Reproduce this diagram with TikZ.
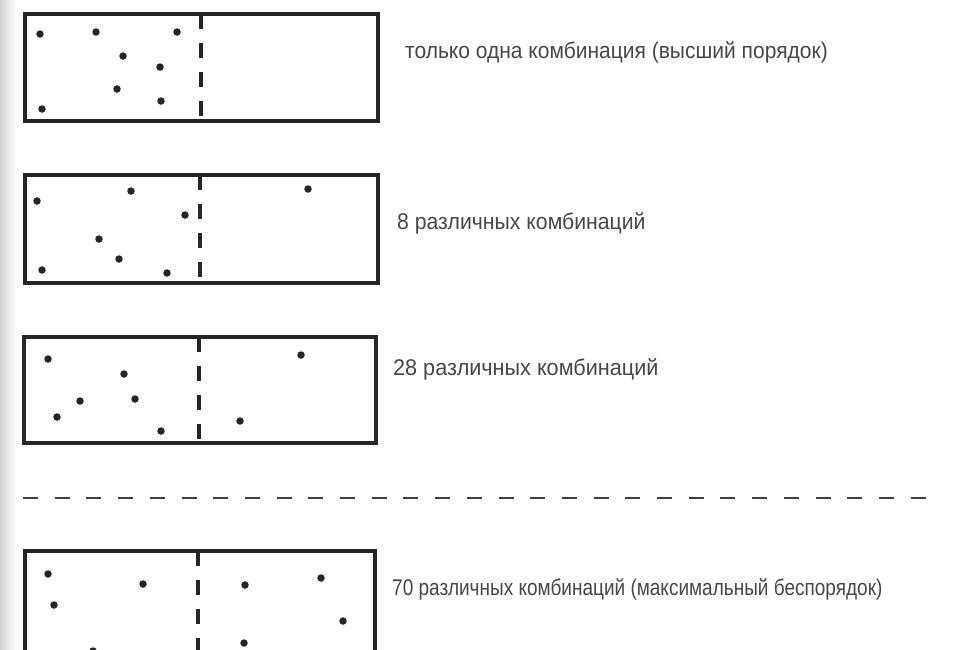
\documentclass[tikz,border=0pt]{standalone}
\usepackage{fontspec}
\usepackage{graphicx}
\setmainfont{Liberation Sans}
\begin{document}
\begin{tikzpicture}[x=1pt,y=-1pt,
  boxframe/.style={draw=black!85,line width=3.4pt},
  divider/.style={draw=black!85,line width=3.2pt,dash pattern=on 15pt off 14pt},
  sep/.style={draw=black!75,line width=2.4pt,dash pattern=on 15pt off 16.7pt},
  dot/.style={circle,fill=black!85,inner sep=0pt,minimum size=7.5pt},
  lbl/.style={anchor=west,inner sep=0pt,text=black!72,font=\fontsize{21}{24}\selectfont}]
\useasboundingbox (0,0) rectangle (961,649);
\clip (0,0) rectangle (961,649);
\fill[white] (0,0) rectangle (961,649);
\shade[left color=black!18,right color=white] (0,0) rectangle (16,649);
% box 1
\draw[boxframe] (25,14) rectangle (378,121);
\draw[divider] (201,14) -- (201,121);
\foreach \p in {(40,34),(96,32),(177,32),(123,56),(160,67),(117,89),(161,101),(42,109)}
  \node[dot] at \p {};
\node[lbl] (t1) at (405,52) {\scalebox{1}[1.08]{только одна комбинация (высший порядок)}};
% box 2
\draw[boxframe] (25,175) rectangle (378,283);
\draw[divider] (200,175) -- (200,283);
\foreach \p in {(37,201),(131,191),(185,215),(308,189),(99,239),(119,259),(42,270),(167,273)}
  \node[dot] at \p {};
\node[lbl] (t2) at (397,223) {\scalebox{1.01}[1.08]{8 различных комбинаций}};
% box 3
\draw[boxframe] (24,337) rectangle (376,443);
\draw[divider] (199,337) -- (199,443);
\foreach \p in {(48,359),(124,374),(301,355),(80,401),(135,399),(57,417),(240,421),(161,431)}
  \node[dot] at \p {};
\node[lbl] (t3) at (393,369) {\scalebox{1.03}[1.08]{28 различных комбинаций}};
% separator
\draw[sep] (23,498) -- (932,498);
% box 4
\draw[boxframe] (25,551) rectangle (375,680);
\draw[divider] (198,551) -- (198,680);
\foreach \p in {(48,574),(143,584),(245,585),(321,578),(54,605),(343,621),(244,643),(93,651)}
  \node[dot] at \p {};
\node[lbl] (t4) at (392,589) {\scalebox{0.905}[1.08]{70 различных комбинаций (максимальный беспорядок)}};
\end{tikzpicture}
\end{document}
